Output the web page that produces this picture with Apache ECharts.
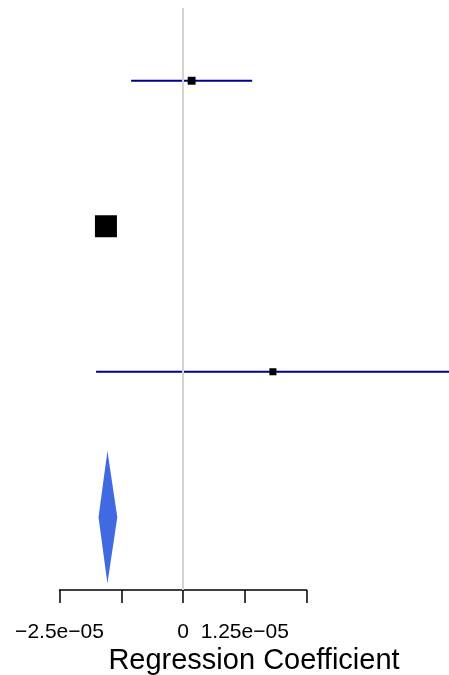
<!DOCTYPE html>
<html>
<head>
<meta charset="utf-8">
<script src="https://cdn.jsdelivr.net/npm/echarts@6/dist/echarts.min.js"></script>
<style>
  html, body { margin: 0; padding: 0; background: #fff; }
  #chart { width: 449px; height: 675px; }
</style>
</head>
<body>
<div id="chart"></div>
<script>
// study rows, top to bottom (y positions on the row scale)
const rowPos = [4, 3, 2];
const estimate = [1.75e-6, -1.56e-5, 1.82e-5];
const lower = [-1.05e-5, -1.62e-5, -1.76e-5];
const upper = [1.4e-5, -1.50e-5, 5.4e-5];
const weight = [0.36, 1, 0.32];

// pooled estimate (diamond)
const summaryPos = 1;
const summaryEst = -1.53e-5;
const summaryLower = -1.71e-5;
const summaryUpper = -1.33e-5;

// axis ticks
const tickValues = [-2.5e-5, -1.25e-5, 0, 1.25e-5, 2.5e-5];
const tickLabels = ['\u22122.5e\u221205', '', '0', '1.25e\u221205', ''];

const FONT = 'Liberation Sans, Arial, Helvetica, sans-serif';
const chart = echarts.init(document.getElementById('chart'));

const studyData = rowPos.map((y, i) => [estimate[i], y, lower[i], upper[i], weight[i]]);

chart.setOption({
  animation: false,
  grid: [
    { left: 59.5, right: 0, top: 8, bottom: 85 },
    { left: 59.5, width: 247, top: 580, height: 10 }
  ],
  xAxis: [{
    gridIndex: 0,
    type: 'value',
    min: -2.5e-5,
    max: -2.5e-5 + 5e-5 * 389.5 / 247,
    show: false
  }, {
    gridIndex: 1,
    type: 'value',
    min: tickValues[0],
    max: tickValues[tickValues.length - 1],
    interval: 1.25e-5,
    position: 'bottom',
    splitLine: { show: false },
    axisLine: { show: true, lineStyle: { color: '#000', width: 1.5 } },
    axisTick: { show: true, inside: false, length: 13, lineStyle: { color: '#000', width: 1.5 } },
    axisLabel: {
      margin: 32,
      color: '#000',
      fontSize: 21,
      fontFamily: FONT,
      showMinLabel: true,
      showMaxLabel: true,
      hideOverlap: false,
      formatter: v => tickLabels[Math.round((v - tickValues[0]) / 1.25e-5)] || ''
    }
  }],
  yAxis: [
    { gridIndex: 0, type: 'value', min: 0.5, max: 4.5, show: false },
    { gridIndex: 1, type: 'value', show: false }
  ],
  graphic: [{
    type: 'text',
    x: 254,
    y: 661,
    style: {
      text: 'Regression Coefficient',
      textAlign: 'center',
      textVerticalAlign: 'middle',
      fontSize: 29,
      fontFamily: FONT,
      fill: '#000'
    }
  }],
  series: [{
    type: 'line',
    xAxisIndex: 0,
    yAxisIndex: 0,
    data: [],
    markLine: {
      silent: true,
      symbol: 'none',
      label: { show: false },
      lineStyle: { color: '#d3d3d3', width: 2, type: 'solid' },
      data: [{ xAxis: 0 }]
    }
  }, {
    type: 'custom',
    xAxisIndex: 0,
    yAxisIndex: 0,
    clip: true,
    data: studyData,
    renderItem: (params, api) => {
      const y = api.value(1);
      const a = api.coord([api.value(2), y]);
      const b = api.coord([api.value(3), y]);
      const c = api.coord([api.value(0), y]);
      const s = api.value(4) * 22;
      return {
        type: 'group',
        children: [{
          type: 'line',
          shape: { x1: a[0], y1: a[1], x2: b[0], y2: b[1] },
          style: { stroke: '#00008B', lineWidth: 2 }
        }, {
          type: 'rect',
          shape: { x: c[0] - s / 2, y: c[1] - s / 2, width: s, height: s },
          style: { fill: '#000' }
        }]
      };
    }
  }, {
    type: 'custom',
    xAxisIndex: 0,
    yAxisIndex: 0,
    clip: true,
    data: [[summaryEst, summaryPos, summaryLower, summaryUpper]],
    renderItem: (params, api) => {
      const y = api.value(1);
      const top = api.coord([api.value(0), y + 0.455]);
      const bot = api.coord([api.value(0), y - 0.455]);
      const l = api.coord([api.value(2), y]);
      const r = api.coord([api.value(3), y]);
      return {
        type: 'polygon',
        shape: { points: [top, r, bot, l] },
        style: { fill: '#4169E1' }
      };
    }
  }]
});
</script>
</body>
</html>
